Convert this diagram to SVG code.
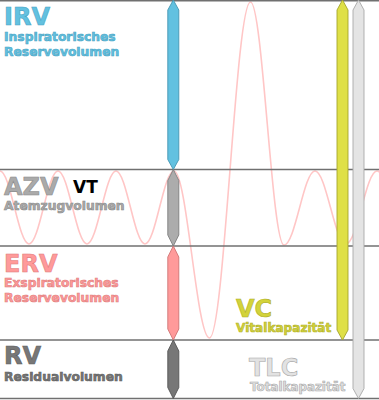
<svg xmlns="http://www.w3.org/2000/svg" width="379" height="400" viewBox="0 0 379 400">
<style>
.t{font-family:"DejaVu Sans","Verdana",sans-serif;font-weight:bold;stroke-width:0.6;paint-order:normal}
.big{font-size:24px}
.sm{font-size:12.3px}
.line{stroke:#707070;stroke-width:1.5;fill:none}
.wave{stroke:#ffc6c6;stroke-width:1.6;fill:none}
.arr{stroke-width:0.9}
.irv{fill:#62c1e0;stroke:#4596b2}
.azv{fill:#acacac;stroke:#7e7e7e}
.erv{fill:#ff9a9a;stroke:#cf7474}
.rv{fill:#777777;stroke:#555555}
.vc{fill:#dfe046;stroke:#a5a52c}
.tlc{fill:#e4e4e4;stroke:#a8a8a8}
.tirv{fill:#62c1e0;stroke:#4aa4c4}
.tazv{fill:#aaaaaa;stroke:#8a8a8a}
.terv{fill:#ff9a9a;stroke:#e07c7c}
.trv{fill:#777777;stroke:#5c5c5c}
.tvc{fill:#d3d33a;stroke:#b0b028}
.ttlc{fill:#e2e2e2;stroke:#a9a9a9}
</style>
<g id="wave">
<path class="wave" d="M0,171 C10.56,171 18.44,244 29,244 C39.56,244 47.44,171 58,171 C68.56,171 76.44,244 87,244 C97.56,244 105.44,171 116,171 C126.56,171 134.44,244 145,244 C155.56,244 163.44,171 174,171 C186.93,171 196.57,338 209.5,338 C224.43,338 235.57,2 250.5,2 C262.7,2 271.8,245 284,245 C295.29,245 303.71,171 315,171 C326.29,171 334.71,244 346,244 C357.29,244 365.71,171 377,171 C388.29,171 396.71,244 408,244"/>
</g>
<g id="levels">
<line class="line" x1="0" y1="0.75" x2="379" y2="0.75"/>
<line class="line" x1="0" y1="169.5" x2="379" y2="169.5"/>
<line class="line" x1="0" y1="246" x2="379" y2="246"/>
<line class="line" x1="0" y1="340" x2="379" y2="340"/>
<line class="line" x1="0" y1="398.5" x2="379" y2="398.5"/>
</g>
<g id="IRV">
<text class="t big tirv" x="4" y="25">IRV</text>
<text class="t sm tirv" x="4" y="41">Inspiratorisches</text>
<text class="t sm tirv" x="4" y="56">Reservevolumen</text>
<polygon class="arr irv" points="173.3,0 178.8,10 178.8,159.5 173.3,169.5 167.8,159.5 167.8,10"/>
</g>
<g id="AZV">
<text class="t big tazv" x="4" y="195">AZV</text>
<text class="t tazv" x="4" y="210" style="font-size:12.3px">Atemzugvolumen</text>
<polygon class="arr azv" points="173.3,169.5 178.8,180.5 178.8,235 173.3,246 167.8,235 167.8,180.5"/>
</g>
<g id="VT">
<text class="t" x="73" y="193" style="font-size:17px;fill:#000;stroke:none">VT</text>
</g>
<g id="ERV">
<text class="t big terv" x="4" y="272">ERV</text>
<text class="t sm terv" x="4" y="287">Exspiratorisches</text>
<text class="t sm terv" x="4" y="302">Reservevolumen</text>
<polygon class="arr erv" points="173.3,246 178.8,257 178.8,329 173.3,340 167.8,329 167.8,257"/>
</g>
<g id="RV">
<text class="t big trv" x="4" y="364">RV</text>
<text class="t sm trv" x="4" y="381">Residualvolumen</text>
<polygon class="arr rv" points="173.3,340 178.8,351 178.8,387.5 173.3,398.5 167.8,387.5 167.8,351"/>
</g>
<g id="VC">
<text class="t big tvc" x="236" y="317">VC</text>
<text class="t tvc" x="236" y="332" style="font-size:12.1px">Vitalkapazität</text>
<polygon class="arr vc" points="342.5,0 348,10 348,330 342.5,340 337,330 337,10"/>
</g>
<g id="TLC">
<text class="t big ttlc" x="249" y="376">TLC</text>
<text class="t ttlc" x="250" y="391" style="font-size:11.9px">Totalkapazität</text>
<polygon class="arr tlc" points="358.5,0 364,10 364,388.5 358.5,398.5 353,388.5 353,10"/>
</g>
</svg>
